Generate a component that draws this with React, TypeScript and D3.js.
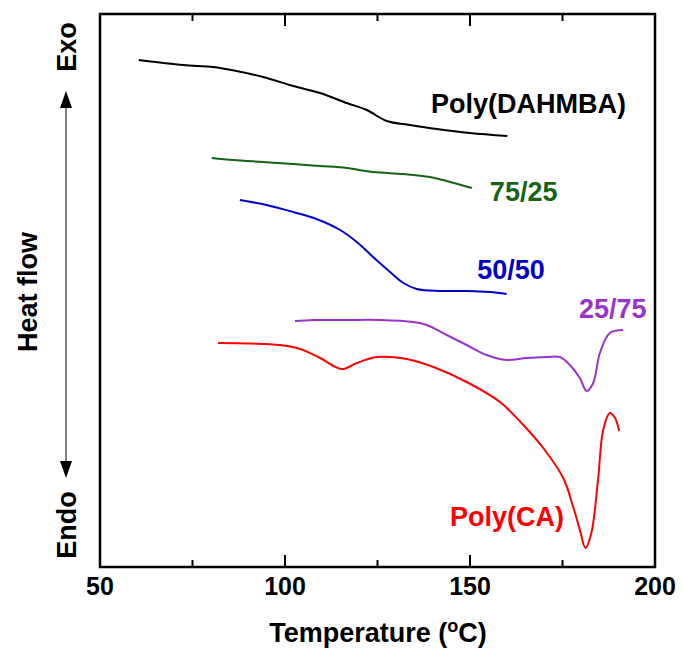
import React, { useRef, useEffect } from "react";
import * as d3 from "d3";

// DSC traces, heat flow in arbitrary units (exo up)
const tempDAHMBA = [60.5, 72.5, 80.6, 86.9, 94.1, 102.2, 109.5, 116.7, 122.1, 127.5, 133.8, 141, 150, 160.1];
const flowDAHMBA = [50.7, 50.2, 50.0, 49.6, 49.0, 48.1, 47.4, 46.4, 45.7, 44.6, 44.2, 43.8, 43.4, 43.1];

const temp7525 = [80.2, 86.0, 94.1, 102.2, 109.5, 116.7, 123.8, 132.0, 139.2, 143.7, 150.5];
const flow7525 = [40.9, 40.7, 40.5, 40.3, 40.1, 39.9, 39.5, 39.3, 39.0, 38.6, 37.9];

const temp5050 = [87.8, 95.0, 102.2, 108.5, 114.9, 119.4, 123.8, 128.4, 132.0, 135.6, 141.9, 149.1, 155.4, 159.9];
const flow5050 = [36.7, 36.2, 35.5, 34.8, 33.7, 32.5, 31.0, 29.5, 28.4, 27.8, 27.6, 27.6, 27.5, 27.3];

const temp2575 = [102.7, 107.6, 116.7, 125.7, 134.7, 138.3, 143.7, 149.1, 154.5, 159.9, 165.3, 170.7, 174.3, 177.0, 179.7, 181.5, 183.3, 185.1, 187.8, 191.4];
const flow2575 = [24.6, 24.7, 24.7, 24.7, 24.5, 24.2, 23.2, 22.2, 21.2, 20.7, 20.9, 21.0, 21.0, 20.2, 18.9, 17.6, 18.4, 21.4, 23.4, 23.7];

const tempCA = [81.9, 90.5, 98.6, 104.1, 109.5, 115.3, 119.4, 124.8, 132.9, 140.1, 149.1, 158.1, 164.4, 169.8, 175.2, 177.9, 179.7, 181.2, 182.8, 184.6, 186.0, 187.8, 189.2, 190.3];
const flowCA = [22.4, 22.35, 22.2, 21.8, 20.9, 19.8, 20.4, 21.0, 20.8, 20.0, 18.5, 16.5, 14.2, 11.9, 8.9, 6.0, 3.7, 1.9, 3.4, 8.7, 13.7, 15.4, 14.9, 13.6];

const seriesNames = ["Poly(DAHMBA)", "75/25", "50/50", "25/75", "Poly(CA)"];
const seriesColors = ["#000000", "#146414", "#0000cc", "#9933cc", "#ff0000"];
// label centre (temperature, heat flow) for each series
const labelTemp = [165.8, 164.5, 161.1, 188.6, 160];
const labelFlow = [45.4, 36.6, 28.8, 24.9, 4.1];

const majorTicks = [50, 100, 150, 200];
const minorTicks = [75, 125, 175];

const App = () => {
    const ref = useRef(null);
    const width = 683;
    const height = 648;

    useEffect(() => {
        const svg = d3.select(ref.current);
        svg.selectAll("*").remove();

        const x = d3.scaleLinear().domain([50, 200]).range([100, 655]);
        const y = d3.scaleLinear().domain([0, 55.3]).range([567, 14]);
        const font = "'Liberation Sans', Arial, sans-serif";

        const data = [
            d3.zip(tempDAHMBA, flowDAHMBA),
            d3.zip(temp7525, flow7525),
            d3.zip(temp5050, flow5050),
            d3.zip(temp2575, flow2575),
            d3.zip(tempCA, flowCA),
        ];

        const line = d3.line()
            .x(d => x(d[0]))
            .y(d => y(d[1]))
            .curve(d3.curveCatmullRom.alpha(0.5));

        svg.selectAll("path.trace")
            .data(data)
            .join("path")
            .attr("class", "trace")
            .attr("fill", "none")
            .attr("stroke", (d, i) => seriesColors[i])
            .attr("stroke-width", 2)
            .attr("stroke-linejoin", "round")
            .attr("d", line);

        svg.selectAll("text.lbl")
            .data(seriesNames)
            .join("text")
            .attr("class", "lbl")
            .attr("x", (d, i) => x(labelTemp[i]))
            .attr("y", (d, i) => y(labelFlow[i]))
            .attr("text-anchor", "middle")
            .attr("font-family", font)
            .attr("font-weight", "bold")
            .attr("font-size", 27)
            .attr("fill", (d, i) => seriesColors[i])
            .text(d => d);

        // frame
        svg.append("rect")
            .attr("x", x(50)).attr("y", y(55.3))
            .attr("width", x(200) - x(50)).attr("height", y(0) - y(55.3))
            .attr("fill", "none").attr("stroke", "#000").attr("stroke-width", 2.5);

        // inward ticks top and bottom
        const ticks = [
            ...majorTicks.map(t => ({ t, len: 12 })),
            ...minorTicks.map(t => ({ t, len: 7 })),
        ];
        svg.selectAll("line.tb")
            .data(ticks)
            .join("line")
            .attr("class", "tb")
            .attr("x1", d => x(d.t)).attr("x2", d => x(d.t))
            .attr("y1", y(0)).attr("y2", d => y(0) - d.len)
            .attr("stroke", "#000").attr("stroke-width", 2);
        svg.selectAll("line.tt")
            .data(ticks)
            .join("line")
            .attr("class", "tt")
            .attr("x1", d => x(d.t)).attr("x2", d => x(d.t))
            .attr("y1", y(55.3)).attr("y2", d => y(55.3) + d.len)
            .attr("stroke", "#000").attr("stroke-width", 2);

        svg.selectAll("text.tick")
            .data(majorTicks)
            .join("text")
            .attr("class", "tick")
            .attr("x", d => x(d))
            .attr("y", 595)
            .attr("text-anchor", "middle")
            .attr("font-family", font)
            .attr("font-weight", "bold")
            .attr("font-size", 25)
            .text(d => d);

        const xt = svg.append("text")
            .attr("x", 378).attr("y", 642)
            .attr("text-anchor", "middle")
            .attr("font-family", font)
            .attr("font-weight", "bold")
            .attr("font-size", 27);
        xt.append("tspan").text("Temperature (");
        xt.append("tspan").attr("font-size", 18).attr("dy", -10).text("o");
        xt.append("tspan").attr("dy", 10).text("C)");

        // y axis: heat flow arrow
        const ax = 66;
        svg.append("line")
            .attr("x1", ax).attr("x2", ax).attr("y1", 104).attr("y2", 464)
            .attr("stroke", "#000").attr("stroke-width", 1);
        svg.append("path")
            .attr("d", `M${ax},91 L${ax - 6},108 L${ax + 6},108 Z`)
            .attr("fill", "#000");
        svg.append("path")
            .attr("d", `M${ax},478 L${ax - 6},461 L${ax + 6},461 Z`)
            .attr("fill", "#000");

        const rot = (tx, ty, txt) => svg.append("text")
            .attr("transform", `translate(${tx},${ty}) rotate(-90)`)
            .attr("text-anchor", "middle")
            .attr("font-family", font)
            .attr("font-weight", "bold")
            .attr("font-size", 27)
            .text(txt);
        rot(ax + 10, 47, "Exo");
        rot(ax + 10, 525, "Endo");
        rot(37, 292, "Heat flow");
    }, []);

    return <svg ref={ref} width={width} height={height}
        style={{ position: "absolute", left: 0, top: 0, background: "#fff" }} />;
};

export default App;
